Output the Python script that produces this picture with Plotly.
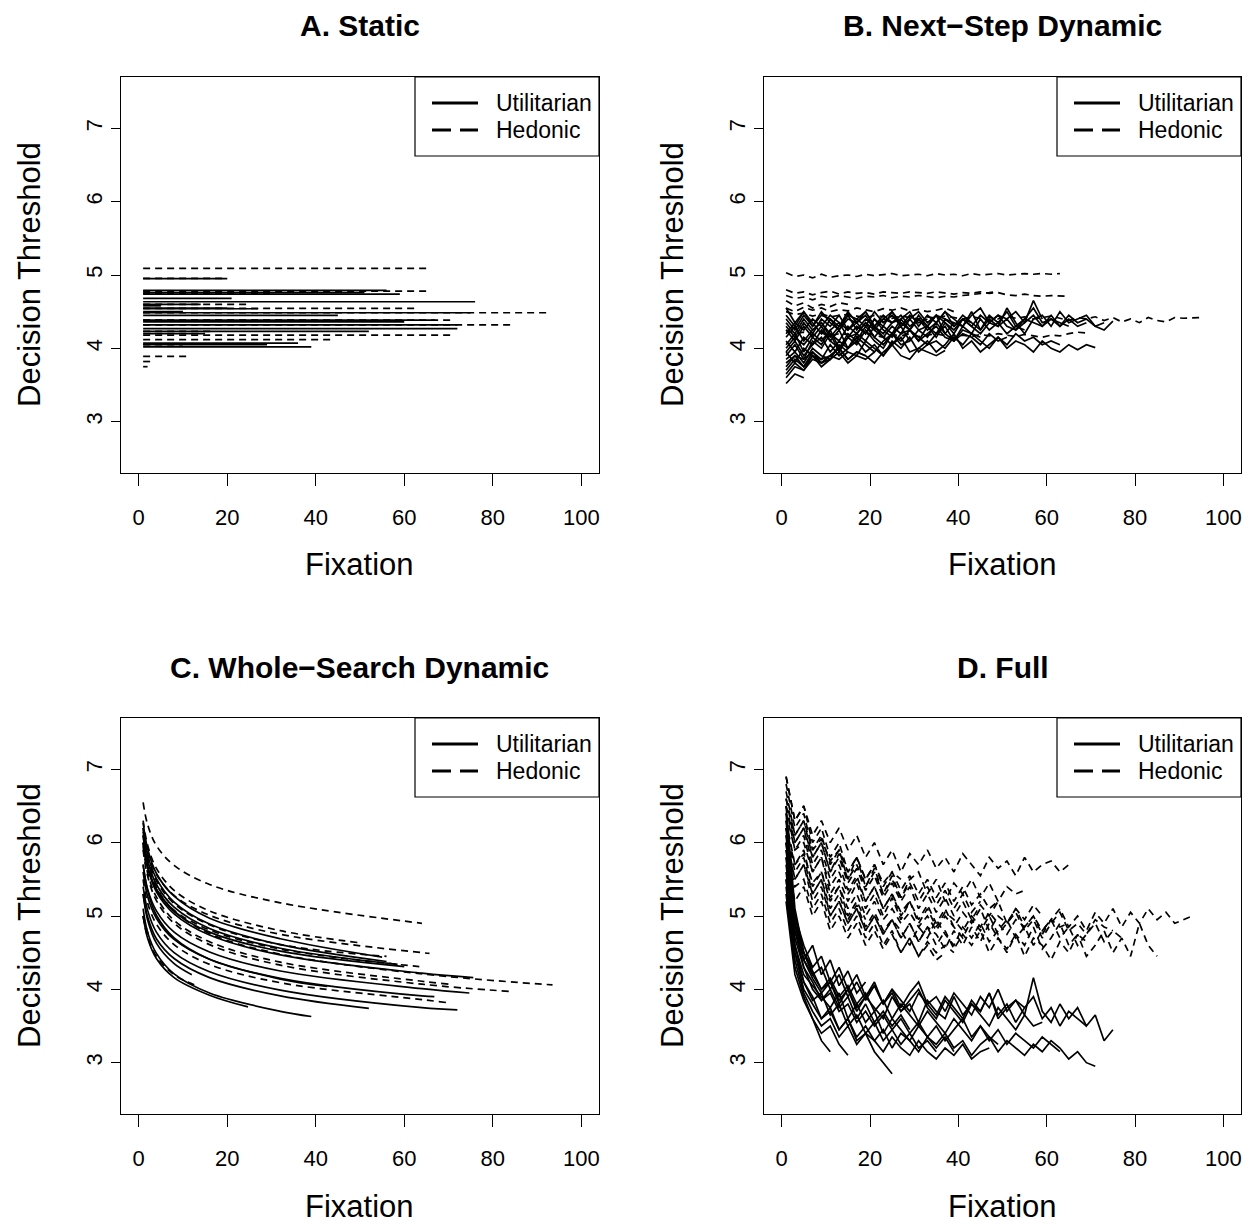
import plotly.graph_objects as go

# The page body has an 8px margin, so the figure is drawn 8px smaller and shifted.
OFF = 8
W, H = 1253 - OFF, 1224 - OFF

# ---------------- DATA ----------------
# Panel A (Static): constant threshold level and number of fixations per subject
A_util_level = [4.95, 4.79, 4.76, 4.74, 4.68, 4.635, 4.60, 4.55, 4.54, 4.50, 4.485, 4.45,
                4.385, 4.36, 4.32, 4.27, 4.23, 4.20, 4.07, 4.05, 4.02, 4.58]
A_util_len = [20, 56, 51, 59, 21, 76, 14, 20, 27, 10, 75, 45, 67, 60, 72, 72, 52, 15, 36, 29, 39, 5]
A_hed_level = [5.09, 4.955, 4.78, 4.75, 4.60, 4.545, 4.485, 4.385, 4.38, 4.32, 4.23, 4.18,
               4.12, 4.05, 3.89, 3.82, 3.75]
A_hed_len = [65, 20, 65, 30, 25, 63, 93, 71, 40, 84, 17, 71, 44, 10, 11, 3, 2]

# Panel B (Next-Step Dynamic): thresholds at fixations 1, 3, 5, ...
B_util = [
    [4.05, 4.2, 3.95, 4.15, 4.3, 4.1, 4.25, 4.0, 4.2, 4.35, 4.15, 4.3, 4.2, 4.4, 4.25, 4.1, 4.3, 4.45, 4.2,
     4.35, 4.3, 4.5, 4.25, 4.4, 4.3, 4.55, 4.35, 4.2, 4.4, 4.45, 4.3, 4.5, 4.35, 4.4, 4.45, 4.3, 4.25, 4.37],
    [3.85, 3.95, 3.8, 4.0, 3.9, 3.85, 4.05, 3.95, 3.9, 4.1, 4.0, 3.9, 4.05, 4.15, 3.95, 4.0, 4.1, 3.95,
     4.05, 4.2, 4.0, 4.1, 3.95, 4.05, 4.15, 4.0, 4.1, 4.05, 3.95, 4.1, 4.0, 3.95, 4.05, 3.98, 4.05, 4.01],
    [3.75, 3.9, 3.85, 3.95, 3.8, 3.9, 4.0, 3.85, 3.95, 3.9, 3.8, 3.95, 4.05, 3.9, 3.85, 4.0, 3.95, 3.9, 3.97],
    [3.52, 3.65, 3.6],
    [4.2, 4.35, 4.25, 4.4, 4.3, 4.45, 4.35, 4.25, 4.4, 4.5, 4.3, 4.45, 4.35, 4.4, 4.5, 4.3, 4.45, 4.35,
     4.5, 4.4, 4.3, 4.45, 4.55, 4.35, 4.45, 4.4, 4.5, 4.35, 4.65, 4.4],
    [4.0, 4.15, 4.05, 4.2, 4.1, 4.25, 4.0, 4.15, 4.2, 4.1, 4.3, 4.15, 4.05, 4.2, 4.25, 4.1, 4.2, 4.3,
     4.15, 4.1, 4.25, 4.2, 4.15],
    [4.3, 4.15, 4.35, 4.2, 4.4, 4.3, 4.45, 4.25, 4.35, 4.2, 4.4, 4.3, 4.5, 4.35, 4.25, 4.4, 4.3, 4.45,
     4.35, 4.2, 4.4, 4.3, 4.45, 4.35, 4.3, 4.4, 4.25, 4.35, 4.45, 4.3, 4.4, 4.35, 4.3],
    [3.8, 3.9, 3.75, 3.95, 3.85, 3.9, 4.0, 3.85, 3.95, 3.9],
    [3.95, 4.1, 3.9, 4.05, 4.15, 3.95, 4.1, 4.0, 4.15, 4.05, 3.95, 4.1, 4.2, 4.05, 4.1],
    [4.1, 3.95, 4.15, 4.05, 4.25, 4.1, 4.0, 4.2, 4.1, 4.3, 4.15, 4.05, 4.2, 4.1, 4.25, 4.15, 4.05, 4.2,
     4.3, 4.1, 4.2, 4.15, 4.05, 4.2, 4.1, 4.15],
    [4.15, 4.3, 4.1, 4.25, 4.35, 4.2, 4.1, 4.3, 4.2, 4.35, 4.25, 4.15, 4.3, 4.2, 4.4, 4.25, 4.3, 4.15,
     4.35, 4.25, 4.4, 4.3, 4.2, 4.35, 4.45, 4.3, 4.25, 4.4, 4.35, 4.3, 4.45, 4.3, 4.4, 4.3, 4.35],
    [3.7, 3.85, 3.75, 3.9, 3.8, 3.85],
    [4.4, 4.25, 4.45, 4.3, 4.5, 4.35, 4.25, 4.45, 4.4, 4.3, 4.5, 4.35, 4.45, 4.3, 4.4, 4.5, 4.35, 4.45, 4.4, 4.35],
    [4.55, 4.35, 4.5, 4.3, 4.45, 4.4, 4.25, 4.4, 4.35, 4.5, 4.3, 4.4, 4.35],
    [3.6, 3.75, 3.7, 3.85, 3.8, 3.9, 3.85, 3.95],
    [3.9, 4.05, 3.85, 4.1, 4.0, 4.2, 3.95, 4.15, 4.05, 4.25, 4.1, 4.0, 4.2, 4.3, 4.1, 4.25, 4.15, 4.35,
     4.2, 4.1, 4.3, 4.2, 4.4, 4.25, 4.35, 4.2, 4.3, 4.25],
    [4.45, 4.3, 4.5, 4.35, 4.2, 4.4, 4.3, 4.5, 4.35, 4.45, 4.25, 4.4, 4.5, 4.3, 4.45, 4.35, 4.4],
    [3.95, 3.8, 4.0, 3.9, 3.85, 4.05, 3.9, 4.0, 4.1, 3.95, 4.05, 3.9, 4.1, 4.0, 4.15, 3.95, 4.05, 4.1,
     4.0, 4.15, 4.05, 4.2, 4.1, 4.0, 4.15, 4.05, 4.2, 4.1, 4.15, 4.05, 4.1, 4.05],
    [4.25, 4.1, 4.3, 4.15, 4.05, 4.25, 4.35, 4.15, 4.3, 4.2, 4.4, 4.25, 4.15, 4.35, 4.25, 4.45, 4.3,
     4.2, 4.4, 4.3, 4.45, 4.35],
    [3.65, 3.8, 3.7, 3.9, 3.75, 3.85, 3.95, 3.8, 3.9, 3.85, 3.95],
    [4.35, 4.2, 4.4, 4.25, 4.35, 4.15, 4.3, 4.45, 4.25, 4.4, 4.3, 4.2, 4.35, 4.45, 4.3, 4.4, 4.25, 4.35,
     4.5, 4.3, 4.4, 4.35, 4.25, 4.45, 4.35, 4.5, 4.3, 4.4, 4.55, 4.35, 4.4, 4.3, 4.45, 4.35, 4.4, 4.3, 4.35],
]
B_hed = [
    [5.03, 4.98, 5.0, 4.96, 5.01, 4.97, 4.99, 5.0, 4.98, 5.01, 4.99, 5.0, 5.02, 4.99, 5.0, 5.01, 4.99,
     5.02, 5.0, 5.01, 4.99, 5.02, 5.0, 5.01, 5.02, 5.0, 5.01, 5.02, 5.01, 5.02, 5.01, 5.02],
    [4.8, 4.75, 4.77, 4.73, 4.76, 4.78, 4.74, 4.77, 4.75, 4.76, 4.74, 4.77, 4.76, 4.75, 4.77, 4.76, 4.75,
     4.77, 4.76, 4.74, 4.76, 4.75, 4.77, 4.75, 4.76, 4.73, 4.72, 4.74, 4.72, 4.71, 4.72, 4.71, 4.71],
    [4.72, 4.68, 4.7, 4.66, 4.71, 4.69, 4.72, 4.7, 4.68, 4.71, 4.7, 4.72, 4.69, 4.71, 4.7, 4.72, 4.7,
     4.69, 4.71, 4.7, 4.72, 4.73, 4.74, 4.76, 4.78],
    [4.5, 4.46, 4.48, 4.44, 4.47, 4.43, 4.45, 4.46, 4.44, 4.42, 4.45, 4.43, 4.41, 4.44, 4.42, 4.4, 4.43,
     4.41, 4.44, 4.42, 4.4, 4.43, 4.41, 4.42, 4.4, 4.44, 4.41, 4.43, 4.4, 4.42, 4.44, 4.41, 4.38, 4.42,
     4.4, 4.43, 4.38, 4.42, 4.36, 4.4, 4.35, 4.42, 4.38, 4.36, 4.42, 4.41, 4.42, 4.42],
    [4.65, 4.58, 4.62, 4.55, 4.6, 4.57, 4.62, 4.6],
    [4.25, 4.2, 4.22, 4.18, 4.21, 4.17, 4.2, 4.19, 4.16, 4.2, 4.18, 4.15, 4.19, 4.17, 4.2, 4.16, 4.18,
     4.2, 4.17, 4.15, 4.18, 4.16, 4.19, 4.17, 4.2, 4.18, 4.16, 4.19, 4.17, 4.15, 4.18, 4.17, 4.2, 4.22, 4.21],
    [4.55, 4.5, 4.56, 4.52, 4.55, 4.5, 4.53, 4.51, 4.55, 4.52, 4.5, 4.54, 4.52, 4.55, 4.51, 4.53, 4.5,
     4.52, 4.55, 4.5],
]

# Panel C (Whole-Search Dynamic): fixation sample points and thresholds
C_util_x = [
    [1, 2, 4, 8, 16, 24.7],
    [1, 2, 4, 8, 16, 32, 39],
    [1, 2, 4, 8, 16, 32, 52],
    [1, 2, 4, 8, 16, 32, 64, 72],
    [1, 2, 4, 8, 16, 32, 64, 66.8],
    [1, 2, 4, 8, 16, 32, 64, 74.7],
    [1, 2, 4, 8, 16, 32, 42.6],
    [1, 2, 4, 8, 16, 32, 64, 75.6],
    [1, 2, 4, 8, 16, 32, 58.5],
    [1, 2, 4, 8, 16, 32, 56],
    [1, 2, 4, 8, 16, 32, 60],
    [1, 2, 4, 8, 16, 32, 55],
    [1, 2, 4, 8, 12],
]
C_util_y = [
    [5.0, 4.70, 4.42, 4.16, 3.92, 3.76],
    [5.1, 4.78, 4.49, 4.21, 3.95, 3.70, 3.63],
    [5.3, 4.99, 4.69, 4.42, 4.16, 3.91, 3.74],
    [5.4, 5.08, 4.78, 4.50, 4.24, 3.99, 3.75, 3.72],
    [5.6, 5.27, 4.97, 4.68, 4.41, 4.15, 3.91, 3.90],
    [5.7, 5.37, 5.07, 4.78, 4.51, 4.25, 4.01, 3.95],
    [5.7, 5.35, 5.01, 4.70, 4.41, 4.14, 4.04],
    [6.0, 5.66, 5.33, 5.03, 4.74, 4.47, 4.22, 4.16],
    [6.1, 5.76, 5.43, 5.12, 4.83, 4.56, 4.34],
    [6.2, 5.84, 5.51, 5.19, 4.89, 4.61, 4.38],
    [6.0, 5.67, 5.36, 5.06, 4.78, 4.52, 4.31],
    [6.27, 5.92, 5.58, 5.27, 4.97, 4.69, 4.44],
    [5.3, 4.95, 4.63, 4.35, 4.20],
]
C_hed_x = [
    [1, 2, 4, 8, 16, 32, 64],
    [1, 2, 4, 8, 16, 32, 64, 65.7],
    [1, 2, 4, 8, 16, 32, 63.4],
    [1, 2, 4, 8, 16, 32, 64, 93.5],
    [1, 2, 4, 8, 16, 32, 64, 84.4],
    [1, 2, 4, 8, 16, 32, 64, 69.5],
    [1, 2, 4, 8, 16, 32, 50.6],
    [1, 2, 4, 8, 13],
    [1, 2, 2.5],
    [1, 2, 4, 8, 16, 32, 56],
    [1, 2, 4, 8, 16, 32, 64, 70],
]
C_hed_y = [
    [6.55, 6.25, 5.96, 5.69, 5.43, 5.18, 4.90],
    [6.2, 5.88, 5.57, 5.28, 5.01, 4.75, 4.50, 4.49],
    [6.0, 5.68, 5.37, 5.08, 4.81, 4.55, 4.31],
    [6.1, 5.73, 5.39, 5.07, 4.76, 4.48, 4.21, 4.06],
    [5.9, 5.55, 5.21, 4.90, 4.61, 4.33, 4.07, 3.97],
    [5.5, 5.18, 4.89, 4.61, 4.34, 4.09, 3.86, 3.82],
    [6.3, 5.97, 5.65, 5.35, 5.07, 4.80, 4.63],
    [5.0, 4.72, 4.45, 4.20, 4.05],
    [5.0, 4.78, 4.70],
    [6.15, 5.81, 5.48, 5.17, 4.88, 4.61, 4.45],
    [5.95, 5.59, 5.26, 4.94, 4.65, 4.37, 4.11, 4.07],
]

# Panel D (Full): thresholds at fixations 1, 3, 5, ...
D_util = [
    [6.0, 4.9, 4.4, 4.2, 4.0, 4.1, 3.8, 4.0, 3.7, 3.9, 3.75, 3.6, 3.9, 3.7, 3.8, 3.55, 3.85, 3.7, 3.6,
     3.9, 3.65, 3.8, 3.7, 3.95, 3.6, 3.75, 3.85, 3.65, 4.16, 3.7, 3.55, 3.8, 3.6, 3.75, 3.5, 3.65, 3.3, 3.45],
    [5.5, 4.5, 4.0, 3.8, 3.6, 3.7, 3.45, 3.6, 3.35, 3.5, 3.3, 3.45, 3.2, 3.4, 3.3, 3.15, 3.35, 3.25, 3.4,
     3.2, 3.3, 3.1, 3.25, 3.35, 3.15, 3.3, 3.2, 3.1, 3.25, 3.15, 3.3, 3.2, 3.05, 3.15, 3.0, 2.95],
    [5.8, 4.6, 4.1, 3.9, 3.6, 3.75, 3.45, 3.6, 3.3, 3.4, 3.15, 3.0, 2.85],
    [6.2, 4.8, 4.3, 4.0, 3.85, 3.95, 3.7, 3.8, 3.55, 3.7, 3.5, 3.65, 3.45, 3.6, 3.4, 3.55, 3.35, 3.5, 3.3,
     3.45, 3.6, 3.35, 3.5, 3.3, 3.45, 3.25, 3.4, 3.3, 3.2, 3.35, 3.25, 3.15],
    [6.5, 5.1, 4.5, 4.2, 4.3, 4.0, 4.2, 3.9, 4.1, 3.85, 4.05, 3.8, 4.0, 3.75, 3.95, 4.1, 3.8, 3.9, 3.7,
     3.95, 3.8, 3.65, 3.9, 3.75, 4.0, 3.7, 3.85, 3.75],
    [5.3, 4.3, 3.9, 3.6, 3.3, 3.15],
    [5.6, 4.6, 4.2, 4.05, 3.9, 3.75, 3.95, 3.6, 3.8, 3.55, 3.7, 3.4, 3.6, 3.45, 3.3, 3.5, 3.35, 3.2, 3.35, 3.15],
    [6.3, 5.0, 4.6, 4.3, 4.45, 4.1, 4.3, 4.0, 4.2, 3.9, 4.1, 3.8, 4.0, 3.85, 3.7, 3.95, 3.8, 3.65, 3.9,
     3.75, 3.6, 3.85, 3.7, 3.95, 3.65, 3.8, 3.55, 3.75, 3.9, 3.6, 3.75, 3.5, 3.7, 3.6, 3.5],
    [5.9, 4.8, 4.4, 4.6, 4.2, 4.4, 4.05, 4.25, 3.95, 4.1],
    [5.4, 4.4, 3.95, 3.7, 3.5, 3.6, 3.35, 3.5, 3.25, 3.4, 3.3, 3.15, 3.35, 3.2, 3.1, 3.3, 3.15, 3.05,
     3.2, 3.1, 3.25, 3.05, 3.15, 3.2],
    [5.7, 4.7, 4.3, 4.1, 3.85, 4.0, 3.75, 3.9, 3.6, 3.8, 3.55, 3.7, 3.5, 3.65, 3.45],
    [6.0, 4.9, 4.5, 4.3],
    [6.1, 4.9, 4.4, 4.15, 3.95, 4.1, 3.85, 4.0, 3.75, 3.9, 4.05, 3.8, 3.95, 3.7, 3.85, 4.0, 3.75, 3.6,
     3.85, 3.7, 3.55, 3.8, 3.65, 3.5, 3.75, 3.6, 3.45, 3.65, 3.5, 3.55],
    [5.5, 4.5, 4.1, 3.85, 3.95, 3.65, 3.8, 3.5, 3.65, 3.4, 3.55, 3.3, 3.45, 3.25, 3.4, 3.2, 3.3, 3.15],
    [6.4, 5.0, 4.5, 4.25, 4.0, 4.15, 3.9, 4.05, 3.8, 3.95, 3.7, 3.85, 3.6, 3.8, 3.65, 3.5, 3.7, 3.55,
     3.4, 3.6, 3.45, 3.3, 3.5, 3.35, 3.25],
    [5.2, 4.2, 3.85, 3.6, 3.4, 3.5, 3.25, 3.1],
]
D_hed = [
    [6.9, 6.3, 6.5, 6.1, 6.3, 6.0, 6.2, 5.9, 6.1, 5.8, 6.0, 5.7, 5.9, 5.6, 5.85, 5.7, 5.9, 5.65, 5.8,
     5.6, 5.85, 5.7, 5.55, 5.8, 5.65, 5.75, 5.55, 5.8, 5.6, 5.7, 5.75, 5.6, 5.7],
    [6.4, 5.9, 6.0, 5.6, 5.8, 5.4, 5.6, 5.3, 5.5, 5.2, 5.4, 5.1, 5.3, 5.0, 5.2, 4.95, 5.15, 4.9, 5.1,
     4.85, 5.05, 4.9, 5.1, 4.8, 5.0, 4.9, 5.1, 4.85, 5.0, 4.75, 4.95, 5.1, 4.85, 5.0, 4.8, 5.05, 4.9,
     5.1, 4.85, 5.05, 4.9, 5.1, 4.95, 5.05, 4.9, 4.95, 5.0],
    [6.2, 5.6, 5.8, 5.3, 5.5, 5.1, 5.3, 4.95, 5.15, 4.85, 5.05, 4.8, 4.95, 4.7, 4.9, 4.65, 4.85, 4.6,
     4.8, 4.55, 4.75, 4.6, 4.8, 4.5, 4.7, 4.55, 4.75, 4.45, 4.7, 4.6, 4.4, 4.65, 4.5, 4.75, 4.45, 4.6,
     4.8, 4.5, 4.7, 4.45, 4.9, 4.6, 4.45],
    [6.6, 6.0, 6.2, 5.8, 6.0, 5.6, 5.85, 5.5, 5.7, 5.4, 5.6, 5.3, 5.5, 5.25, 5.45, 5.2, 5.4, 5.15,
     5.35, 5.1, 5.3, 5.05, 5.2],
    [6.0, 5.5, 5.7, 5.2, 5.4, 5.0, 5.2, 4.9, 5.1, 4.8, 5.0, 4.75, 4.95, 4.7, 4.9, 4.65, 4.85, 4.75,
     4.55, 4.8, 4.6, 4.85, 4.65, 4.9, 4.7, 4.5, 4.75, 4.6, 4.85, 4.55, 4.7, 4.9, 4.6, 4.75, 4.65],
    [6.5, 6.0, 6.2, 5.7, 5.9, 5.5, 5.7, 5.35, 5.55, 5.2, 5.4, 5.1, 5.3, 5.05, 5.2],
    [6.7, 6.1, 6.3, 5.8, 6.0, 5.6, 5.8, 5.45, 5.65, 5.35, 5.55, 5.25, 5.45, 5.2, 5.4, 5.1, 5.3, 5.05,
     5.25, 5.0, 5.2, 4.95, 5.15, 5.0, 5.2, 4.9, 5.1, 4.95, 5.15, 5.0],
    [6.1, 5.5, 5.7, 5.3, 5.5, 5.0, 5.2, 4.9, 5.1, 4.8, 5.0, 4.75, 4.95, 4.8, 4.6, 4.85, 4.7, 4.95,
     4.75, 4.6, 4.85, 4.7, 4.9, 4.65, 4.8, 4.95, 4.7, 4.85, 4.6, 4.8, 4.95, 4.7, 4.85, 4.6, 4.75, 4.9,
     4.65, 4.8, 4.7],
    [6.3, 5.7, 5.9, 5.4, 5.6, 5.2, 5.4, 5.0, 5.2, 4.95],
    [6.8, 6.2, 6.4, 5.9, 6.1, 5.7, 5.9, 5.5, 5.8, 5.4, 5.65, 5.3, 5.55, 5.25, 5.5, 5.6, 5.3, 5.5, 5.2,
     5.45, 5.3, 5.5, 5.25, 5.45, 5.2, 5.4, 5.3, 5.35],
    [5.9, 5.4, 5.5, 5.1, 5.3, 4.9, 5.1, 4.8, 5.0, 4.7, 4.9, 4.6, 4.8, 4.5, 4.7, 4.45, 4.6, 4.4, 4.5],
    [6.5, 5.9, 6.1, 5.6, 5.8, 5.3, 5.5, 5.2, 5.45, 5.1, 5.3, 5.0, 5.25, 4.95, 5.2, 4.9, 5.1, 4.85, 5.05,
     4.95, 4.8, 5.0, 4.85, 5.05, 4.9, 4.75, 4.95, 4.85, 5.0, 4.8, 4.95, 4.85, 4.9],
    [6.6, 6.1, 6.3, 5.9, 6.05, 5.75, 5.9, 5.6, 5.8, 5.5, 5.7, 5.45, 5.6, 5.35, 5.55, 5.3, 5.5, 5.25,
     5.45, 5.2, 5.4, 5.15, 5.3, 5.1, 5.2],
    [5.8, 5.2, 5.4, 5.0, 5.2, 4.8, 5.0, 4.7, 4.9, 4.6, 4.8, 4.55, 4.75, 4.5, 4.7, 4.45, 4.65, 4.5, 4.6, 4.5],
    [6.2, 5.7, 5.85, 5.45, 5.6, 5.25, 5.4, 5.1, 5.3, 5.0, 5.2, 4.95, 5.1, 4.9, 5.05, 4.85, 5.0, 4.8,
     5.0, 4.85, 4.7, 4.95, 4.8, 5.0, 4.75, 4.9, 5.05, 4.8, 4.95, 4.7, 4.9, 5.05, 4.8, 4.9, 4.75, 4.95,
     4.85, 4.8],
    [6.9, 6.3, 6.5, 6.0, 6.2, 5.8, 6.0, 5.6, 5.8, 5.5, 5.7, 5.4, 5.6, 5.5],
]

titles = ["A. Static", "B. Next\u2212Step Dynamic", "C. Whole\u2212Search Dynamic", "D. Full"]
x_label = "Fixation"
y_label = "Decision Threshold"
legend_labels = ["Utilitarian", "Hedonic"]
x_ticks = [0, 20, 40, 60, 80, 100]
y_ticks = [3, 4, 5, 6, 7]

# ---------------- LAYOUT (window-pixel boxes of the four plot regions) ----------------
boxes = [(121, 599, 77, 473), (764, 1241, 77, 473), (121, 599, 718, 1114), (764, 1241, 718, 1114)]
FONT = "Liberation Sans, Arial, Helvetica, sans-serif"
LW = 1.7
DASH = "7px,5px"


def px(x):
    return (x - OFF) / W


def py(y):
    return 1 - (y - OFF) / H


fig = go.Figure()


def add_line(k, xs, ys, dashed, shape="linear"):
    fig.add_trace(go.Scatter(
        x=xs, y=ys, mode="lines", xaxis=f"x{k if k > 1 else ''}", yaxis=f"y{k if k > 1 else ''}",
        line=dict(color="black", width=LW, dash=DASH if dashed else "solid", shape=shape),
        showlegend=False, hoverinfo="skip"))


# Panel A
for lvl, n in zip(A_util_level, A_util_len):
    add_line(1, [1, n], [lvl, lvl], False)
for lvl, n in zip(A_hed_level, A_hed_len):
    add_line(1, [1, n], [lvl, lvl], True)

# Panel B
for s in B_util:
    add_line(2, [1 + 2 * i for i in range(len(s))], s, False)
for s in B_hed:
    add_line(2, [1 + 2 * i for i in range(len(s))], s, True)

# Panel C
for xs, ys in zip(C_util_x, C_util_y):
    add_line(3, xs, ys, False, "spline")
for xs, ys in zip(C_hed_x, C_hed_y):
    add_line(3, xs, ys, True, "spline")

# Panel D
for s in D_util:
    add_line(4, [1 + 2 * i for i in range(len(s))], s, False)
for s in D_hed:
    add_line(4, [1 + 2 * i for i in range(len(s))], s, True)

layout = dict(width=W, height=H, margin=dict(l=0, r=0, t=0, b=0),
              paper_bgcolor="white", plot_bgcolor="white",
              font=dict(family=FONT, color="black"))
annotations = []
shapes = []
for k, (x0, x1, y0, y1) in enumerate(boxes, start=1):
    sfx = "" if k == 1 else str(k)
    layout[f"xaxis{sfx}"] = dict(
        domain=[px(x0), px(x1)], range=[-4, 104], anchor=f"y{sfx}",
        tickvals=x_ticks, ticks="outside", ticklen=12, tickwidth=1.2, tickcolor="black",
        showline=True, mirror=True, linecolor="black", linewidth=1.2,
        showgrid=False, zeroline=False, tickfont=dict(size=22, family=FONT),
        ticklabelstandoff=12)
    layout[f"yaxis{sfx}"] = dict(
        domain=[py(y1), py(y0)], range=[2.3, 7.7], anchor=f"x{sfx}",
        tickvals=y_ticks, ticks="outside", ticklen=9, tickwidth=1.2, tickcolor="black",
        showline=True, mirror=True, linecolor="black", linewidth=1.2,
        showgrid=False, zeroline=False, tickfont=dict(size=22, family=FONT),
        tickangle=-90, ticklabelstandoff=0)
    cx = (x0 + x1) / 2
    annotations.append(dict(text=f"<b>{titles[k-1]}</b>", x=px(cx), y=py(y0 - 51), xref="paper", yref="paper",
                            showarrow=False, xanchor="center", yanchor="middle", borderpad=0,
                            font=dict(size=30)))
    annotations.append(dict(text=x_label, x=px(cx), y=py(y1 + 92), xref="paper", yref="paper",
                            showarrow=False, xanchor="center", yanchor="middle", font=dict(size=31)))
    annotations.append(dict(text=y_label, x=px(x0 - 92), y=py((y0 + y1) / 2), xref="paper", yref="paper",
                            showarrow=False, xanchor="center", yanchor="middle", textangle=-90,
                            font=dict(size=31)))
    # legend box
    lx0, lx1, ly0, ly1 = x1 - 184, x1, y0, y0 + 79
    shapes.append(dict(type="rect", xref="paper", yref="paper", x0=px(lx0), x1=px(lx1), y0=py(ly1), y1=py(ly0),
                       line=dict(color="black", width=1.2), fillcolor="white", layer="above"))
    r1, r2 = y0 + 26, y0 + 53
    shapes.append(dict(type="line", xref="paper", yref="paper", x0=px(x1 - 167), x1=px(x1 - 121),
                       y0=py(r1), y1=py(r1), line=dict(color="black", width=3), layer="above"))
    for a, b in [(x1 - 167, x1 - 148), (x1 - 139, x1 - 121)]:
        shapes.append(dict(type="line", xref="paper", yref="paper", x0=px(a), x1=px(b),
                           y0=py(r2), y1=py(r2), line=dict(color="black", width=3), layer="above"))
    for lab, ry in zip(legend_labels, [r1, r2]):
        annotations.append(dict(text=lab, x=px(x1 - 105), y=py(ry), xref="paper", yref="paper",
                                showarrow=False, xanchor="left", yanchor="middle", font=dict(size=23)))

layout["annotations"] = annotations
layout["shapes"] = shapes
fig.update_layout(**layout)
fig.write_html("out.html")
